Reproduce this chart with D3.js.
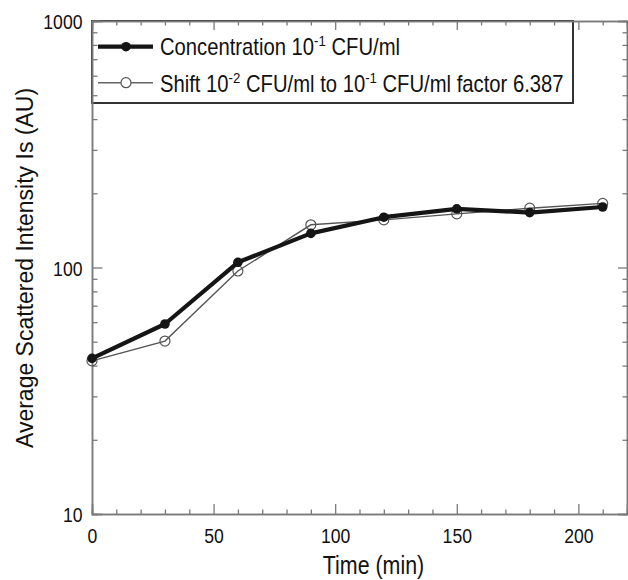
<!DOCTYPE html>
<html>
<head>
<meta charset="utf-8">
<script src="https://cdn.jsdelivr.net/npm/d3@7"></script>
<style>
  html, body { margin: 0; padding: 0; background: #fff; }
  svg { display: block; }
  text { font-family: "Liberation Sans", Arial, sans-serif; fill: #111; }
</style>
</head>
<body>
<svg id="chart" width="628" height="580"></svg>
<script>
// Sampling times (min)
const times = [0, 30, 60, 90, 120, 150, 180, 210];
// Average scattered intensity for 10^-1 CFU/ml
const concentration = [42.8, 59, 105, 137.5, 160, 173, 167, 176];
// 10^-2 CFU/ml curve shifted onto 10^-1 CFU/ml (factor 6.387)
const shifted = [41.8, 50.3, 96.8, 149, 156, 165, 174, 182];

const xMajor = [0, 50, 100, 150, 200];
const yMajor = [10, 100, 1000];

const NARROW = 0.84;      // horizontal squeeze for the narrow typeface
const NARROW_LEG = 0.88;  // legend text squeeze

const svg = d3.select("#chart");
const plotL = 92, plotR = 627, plotT = 21, plotB = 514;

const x = d3.scaleLinear().domain([0, 220]).range([plotL, plotR]);
const y = d3.scaleLog().domain([10, 1000]).range([plotB, plotT]);

const xMinor = d3.range(0, 221, 10).filter(v => !xMajor.includes(v));
const yMinor = [];
[10, 100].forEach(d => { for (let k = 2; k <= 9; k++) yMinor.push(d * k); });

// Legend box (drawn first so the axis ticks stay visible on top)
const legend = svg.append("g");
legend.append("rect")
  .attr("x", plotL).attr("y", plotT)
  .attr("width", 573 - plotL).attr("height", 103 - plotT)
  .attr("fill", "#fff").attr("stroke", "#333").attr("stroke-width", 2);

// Axes on all four sides, ticks pointing inward
const axisColor = "#7a7a7a";
function styleAxis(g) {
  g.select(".domain").attr("stroke", axisColor).attr("stroke-width", 1.5);
  g.selectAll(".tick line").attr("stroke", axisColor).attr("stroke-width", 1.3);
}

// bottom
const gxMinor = svg.append("g").attr("transform", `translate(0,${plotB})`)
  .call(d3.axisBottom(x).tickValues(xMinor).tickSize(-4.5).tickFormat(""));
styleAxis(gxMinor);
const gx = svg.append("g").attr("transform", `translate(0,${plotB})`)
  .call(d3.axisBottom(x).tickValues(xMajor).tickSize(-10).tickFormat(d3.format("d")));
styleAxis(gx);
gx.selectAll(".tick text")
  .attr("y", 29).attr("dy", 0)
  .attr("font-size", 21).attr("fill", "#111")
  .attr("transform", `scale(${NARROW},1)`);

// top
const gtMinor = svg.append("g").attr("transform", `translate(0,${plotT})`)
  .call(d3.axisTop(x).tickValues(xMinor).tickSize(-4.5).tickFormat(""));
styleAxis(gtMinor);
const gt = svg.append("g").attr("transform", `translate(0,${plotT})`)
  .call(d3.axisTop(x).tickValues(xMajor).tickSize(-9).tickFormat(""));
styleAxis(gt);

// left
const gyMinor = svg.append("g").attr("transform", `translate(${plotL},0)`)
  .call(d3.axisLeft(y).tickValues(yMinor).tickSize(-5.5).tickFormat(""));
styleAxis(gyMinor);
const gy = svg.append("g").attr("transform", `translate(${plotL},0)`)
  .call(d3.axisLeft(y).tickValues(yMajor).tickSize(-10.5).tickFormat(d3.format("d")));
styleAxis(gy);
gy.selectAll(".tick text")
  .attr("x", -9.5 / NARROW).attr("dy", "0.36em")
  .attr("font-size", 21).attr("fill", "#111")
  .attr("transform", `scale(${NARROW},1)`);

// right
const grMinor = svg.append("g").attr("transform", `translate(${plotR},0)`)
  .call(d3.axisRight(y).tickValues(yMinor).tickSize(-4.5).tickFormat(""));
styleAxis(grMinor);
const gr = svg.append("g").attr("transform", `translate(${plotR},0)`)
  .call(d3.axisRight(y).tickValues(yMajor).tickSize(-9).tickFormat(""));
styleAxis(gr);

// Axis titles
svg.append("text")
  .attr("transform", `translate(373.5,574) scale(${NARROW},1)`)
  .attr("text-anchor", "middle").attr("font-size", 25.5)
  .text("Time (min)");

svg.append("text")
  .attr("transform", "translate(33,268) rotate(-90)")
  .attr("text-anchor", "middle").attr("font-size", 23)
  .text("Average Scattered Intensity Is (AU)");

// Series
const line = d3.line().x(d => x(d[0])).y(d => y(d[1]));
const shiftPts = times.map((t, i) => [t, shifted[i]]);
const concPts = times.map((t, i) => [t, concentration[i]]);

svg.append("path").datum(shiftPts)
  .attr("d", line).attr("fill", "none")
  .attr("stroke", "#555").attr("stroke-width", 1.4);
svg.selectAll("circle.shift").data(shiftPts).join("circle")
  .attr("class", "shift")
  .attr("cx", d => x(d[0])).attr("cy", d => y(d[1])).attr("r", 5)
  .attr("fill", "none").attr("stroke", "#555").attr("stroke-width", 1.2);

svg.append("path").datum(concPts)
  .attr("d", line).attr("fill", "none")
  .attr("stroke", "#151515").attr("stroke-width", 4.2)
  .attr("stroke-linejoin", "round");
svg.selectAll("circle.conc").data(concPts).join("circle")
  .attr("class", "conc")
  .attr("cx", d => x(d[0])).attr("cy", d => y(d[1])).attr("r", 4.8)
  .attr("fill", "#151515");

// Legend entries
const entries = [
  { yl: 46.7, base: 55, thick: true,
    parts: [["Concentration 10", false], ["-1", true], [" CFU/ml", false]] },
  { yl: 82.7, base: 91.5, thick: false,
    parts: [["Shift 10", false], ["-2", true], [" CFU/ml to 10", false], ["-1", true], [" CFU/ml factor 6.387", false]] }
];
entries.forEach(e => {
  legend.append("line")
    .attr("x1", 98).attr("x2", 153).attr("y1", e.yl).attr("y2", e.yl)
    .attr("stroke", e.thick ? "#151515" : "#666")
    .attr("stroke-width", e.thick ? 4.2 : 1.4);
  if (e.thick) {
    legend.append("circle").attr("cx", 126).attr("cy", e.yl).attr("r", 4.8).attr("fill", "#151515");
  } else {
    legend.append("circle").attr("cx", 126).attr("cy", e.yl).attr("r", 5)
      .attr("fill", "#fff").attr("stroke", "#555").attr("stroke-width", 1.2);
  }
  const t = legend.append("text")
    .attr("transform", `translate(160,${e.base}) scale(${NARROW_LEG},1)`)
    .attr("font-size", 23);
  e.parts.forEach(([s, sup]) => {
    const ts = t.append("tspan").text(s);
    if (sup) ts.attr("font-size", 15).attr("dy", -9);
    else if (t.selectAll("tspan").size() > 1) ts.attr("dy", 9);
  });
});
</script>
</body>
</html>
